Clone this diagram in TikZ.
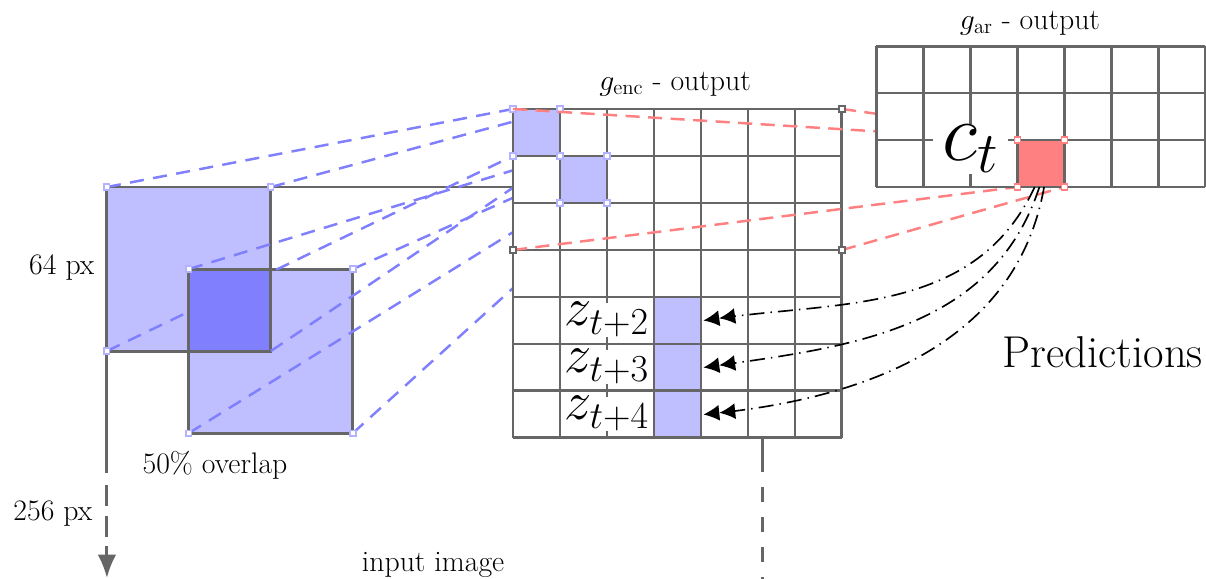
\documentclass[tikz,border=0pt]{standalone}
\usepackage{fix-cm}
\usetikzlibrary{arrows.meta}

\tikzset{
  frame/.style={black!60, line width=1.8pt},
  gridline/.style={black!60, line width=1.8pt},
  bline/.style={blue!50, line width=1.5pt, dash pattern=on 0.3cm off 0.2cm},
  rline/.style={red!50, line width=1.5pt, dash pattern=on 0.3cm off 0.18cm},
  pred/.style={line width=1pt, dash pattern=on 0.32cm off 0.13cm on 0.03cm off 0.13cm,
    -{Latex[length=0.34cm,width=0.34cm]Latex[length=0.34cm,width=0.34cm]}},
  mk/.style={draw=#1, fill=white, line width=0.7pt},
  lbl/.style={font=\fontsize{18}{22}\selectfont, inner sep=0pt},
  zlbl/.style={font=\fontsize{33}{38}\selectfont, fill=white, inner xsep=1pt, inner ysep=0pt},
}

\begin{document}
\begin{tikzpicture}
    \useasboundingbox (-10.915,-3.0) rectangle (14.745,9.319);

    % 角点
    \coordinate (q1tl) at (-8.64,5.34);
    \coordinate (q1tr) at (-5.15,5.34);
    \coordinate (q1bl) at (-8.64,1.85);
    \coordinate (q1br) at (-5.15,1.85);
    \coordinate (q2tl) at (-6.895,3.595);
    \coordinate (q2tr) at (-3.405,3.595);
    \coordinate (q2bl) at (-6.895,0.105);
    \coordinate (q2br) at (-3.405,0.105);
    \coordinate (e07) at (0,7);
    \coordinate (e17) at (1,7);
    \coordinate (e77) at (7,7);
    \coordinate (e06) at (0,6);
    \coordinate (e16) at (1,6);
    \coordinate (e26) at (2,6);
    \coordinate (e15) at (1,5);
    \coordinate (e25) at (2,5);
    \coordinate (e04) at (0,4);
    \coordinate (e74) at (7,4);
    \coordinate (ctl) at (10.73,6.34);
    \coordinate (ctr) at (11.73,6.34);
    \coordinate (cbl) at (10.73,5.34);
    \coordinate (cbr) at (11.73,5.34);

    % 输入图像边框
    \draw[frame] (q1tl) -- (0,5.34);
    \coordinate (lcut) at (-8.64,-0.75);
    \coordinate (lend) at (-8.64,-2.98);
    \draw[frame] (q1tl) -- (lcut);
    \draw[frame, dash pattern=on 0.45cm off 0.2cm, -{Latex[length=0.5cm,width=0.4cm]}] (lcut) ++(0,-0.25) -- (lend);
    \coordinate (rtop) at (5.30,0);
    \coordinate (rcut) at (5.30,-0.72);
    \draw[frame] (rtop) -- (rcut);
    \draw[frame, dash pattern=on 0.32cm off 0.32cm] (rcut) ++(0,-0.32) -- (5.30,-3.0);

    % 两个图块
    \fill[blue!25] (q1bl) rectangle (q1tr);
    \fill[blue!25] (q2bl) rectangle (q2tr);
    \fill[blue!50] (q2tl |- q1bl) rectangle (q1tr |- q2tl);
    \draw[frame] (q1bl) rectangle (q1tr);
    \draw[frame] (q2bl) rectangle (q2tr);

    % 投影线
    \draw[bline] (q1tl) -- (e07);
    \draw[bline] (q1tr) -- (e17);
    \draw[bline] (q1bl) -- (e06);
    \draw[bline] (q1br) -- (e16);
    \draw[bline] (q2tl) -- (e16);
    \draw[bline] (q2tr) -- (e26);
    \draw[bline] (q2bl) -- (e15);
    \draw[bline] (q2br) -- (e25);
    \foreach \p in {q1tl,q1tr,q1bl,q2tl,q2tr,q2bl,q2br}
        \draw[mk=blue!30] (\p) ++(-1.8pt,-1.8pt) rectangle ++(3.6pt,3.6pt);

    % g_enc 网格
    \fill[white] (0,0) rectangle (7,7);
    \fill[blue!25] (0,6) rectangle (1,7);
    \fill[blue!25] (1,5) rectangle (2,6);
    \fill[blue!25] (3,0) rectangle (4,3);
    \draw[gridline] (0,0) grid (7,7);
    \foreach \p in {e07,e17,e06,e16,e26,e15,e25}
        \draw[mk=blue!30] (\p) ++(-1.8pt,-1.8pt) rectangle ++(3.6pt,3.6pt);

    % 上下文线
    \draw[rline] (e07) -- (ctl);
    \draw[rline] (e77) -- (ctr);
    \draw[rline] (e04) -- (cbl);
    \draw[rline] (e74) -- (cbr);
    \foreach \p in {e77,e04,e74}
        \draw[mk=black!60] (\p) ++(-1.8pt,-1.8pt) rectangle ++(3.6pt,3.6pt);

    % g_ar 网格
    \fill[white] (7.73,5.34) rectangle (14.73,8.34);
    \fill[red!50] (cbl) rectangle (ctr);
    \draw[gridline, shift={(7.73,5.34)}] (0,0) grid (7,3);
    \foreach \p in {ctl,ctr,cbl,cbr}
        \draw[mk=red!50] (\p) ++(-1.8pt,-1.8pt) rectangle ++(3.6pt,3.6pt);
    \node[font=\fontsize{50}{56}\selectfont, fill=white, inner xsep=0.2cm, inner ysep=0.03cm] (ct) at (9.74,6.15) {$c_t$};

    % z 标签
    \node[zlbl] (z2) at (2,2.52) {$z_{t+2}$};
    \node[zlbl] (z3) at (2,1.52) {$z_{t+3}$};
    \node[zlbl] (z4) at (2,0.52) {$z_{t+4}$};

    % 预测
    \coordinate (s2) at (11.1,5.34);
    \coordinate (s3) at (11.2,5.34);
    \coordinate (s4) at (11.3,5.34);
    \coordinate (a2) at (4.05,2.5);
    \coordinate (a3) at (4.05,1.5);
    \coordinate (a4) at (4.05,0.5);
    \draw[pred] (s2) to[out=-115, in=8] (a2);
    \draw[pred] (s3) to[out=-108, in=8] (a3);
    \draw[pred] (s4) to[out=-100, in=6] (a4);

    % 标注
    \node[lbl] (px64) at (-9.6,3.62) {64 px};
    \node[lbl] (px256) at (-9.79,-1.6) {256 px};
    \node[lbl] (overlap) at (-6.34,-0.57) {50\% overlap};
    \node[lbl, anchor=base] (inimg) at (-1.70,-2.85) {input image};
    \node[lbl, anchor=base] (genc) at (3.45,7.40) {$g_{\mathrm{enc}}$ - output};
    \node[lbl, anchor=base] (gar) at (11.0,8.70) {$g_{\mathrm{ar}}$ - output};
    \node[font=\fontsize{27}{32}\selectfont, inner sep=0pt, anchor=base] (predl) at (12.55,1.49) {Predictions};
\end{tikzpicture}
\end{document}
